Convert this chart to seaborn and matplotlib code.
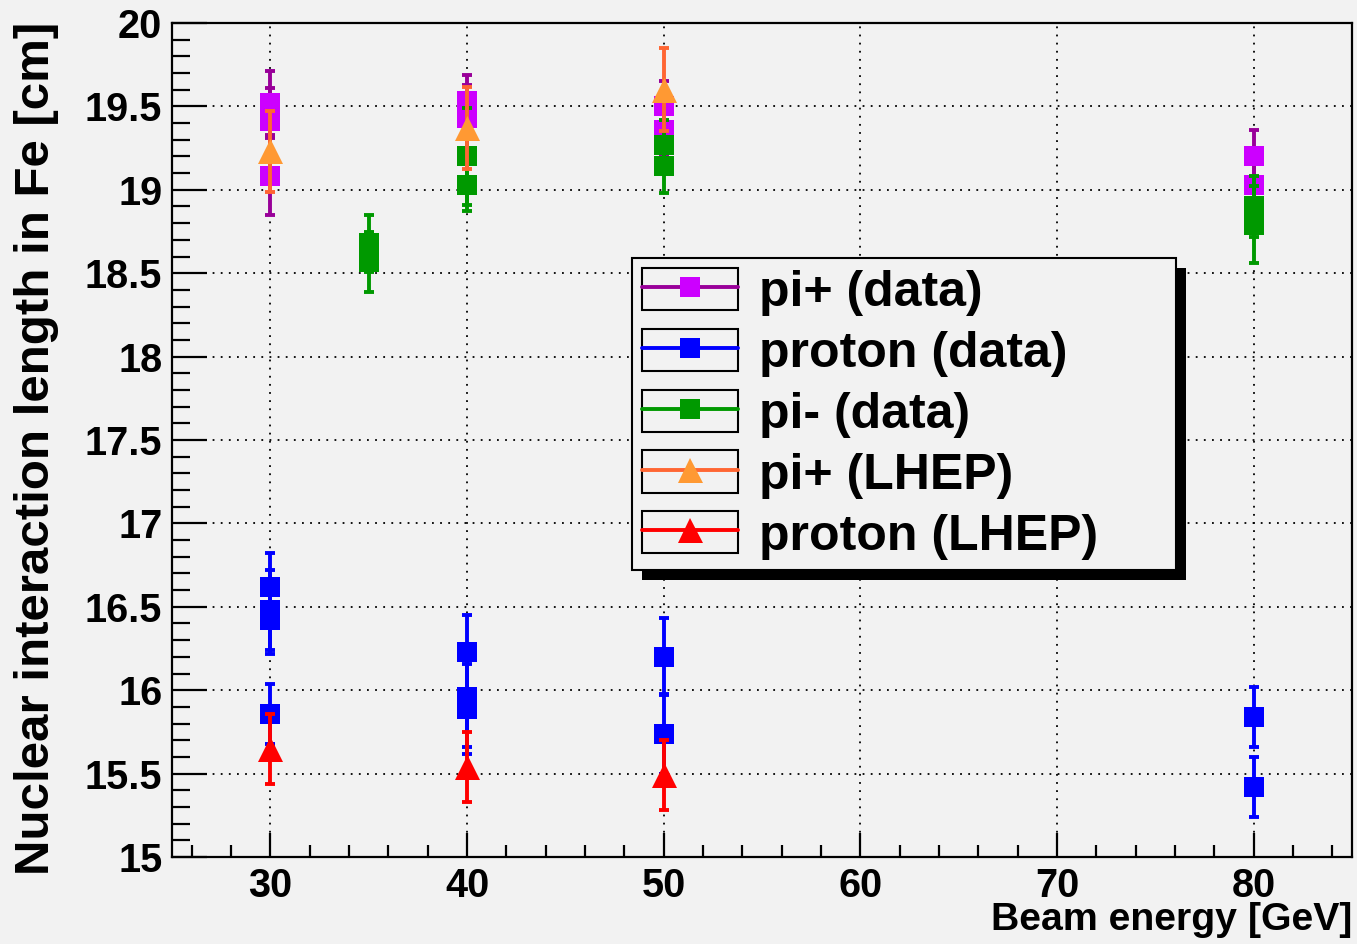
import matplotlib
matplotlib.use("Agg")
import matplotlib.pyplot as plt
from matplotlib.patches import Rectangle
from matplotlib.lines import Line2D
from matplotlib.legend_handler import HandlerTuple
from matplotlib.transforms import IdentityTransform
from matplotlib.ticker import MultipleLocator
import numpy as np
import pandas as pd
import seaborn as sns

# ---------------- data ----------------
series_names = ["pi+ (data)", "proton (data)", "pi- (data)", "pi+ (LHEP)", "proton (LHEP)"]

pip_data_E = [30, 30, 30, 40, 40, 50, 50, 80, 80]
pip_data_v = [19.52, 19.41, 19.08, 19.53, 19.43, 19.50, 19.36, 19.20, 19.03]
pip_data_e = [0.19, 0.20, 0.23, 0.16, 0.20, 0.15, 0.15, 0.16, 0.17]

prot_data_E = [30, 30, 30, 30, 40, 40, 40, 50, 50, 80, 80]
prot_data_v = [16.62, 16.48, 16.42, 15.86, 16.23, 15.96, 15.89, 16.20, 15.74, 15.84, 15.42]
prot_data_e = [0.20, 0.24, 0.20, 0.18, 0.22, 0.30, 0.27, 0.23, 0.24, 0.18, 0.18]

pim_data_E = [35, 35, 40, 40, 50, 50, 80, 80]
pim_data_v = [18.68, 18.57, 19.20, 19.03, 19.27, 19.14, 18.90, 18.79]
pim_data_e = [0.17, 0.18, 0.29, 0.16, 0.15, 0.16, 0.18, 0.23]

pip_lhep_E = [30, 40, 50]
pip_lhep_v = [19.23, 19.37, 19.60]
pip_lhep_e = [0.245, 0.245, 0.25]

prot_lhep_E = [30, 40, 50]
prot_lhep_v = [15.65, 15.54, 15.49]
prot_lhep_e = [0.21, 0.21, 0.21]

x_ticks = [30, 40, 50, 60, 70, 80]
x_tick_labels = ["30", "40", "50", "60", "70", "80"]
y_ticks = [15, 15.5, 16, 16.5, 17, 17.5, 18, 18.5, 19, 19.5, 20]
y_tick_labels = ["15", "15.5", "16", "16.5", "17", "17.5", "18", "18.5", "19", "19.5", "20"]

x_label = "Beam energy [GeV]"
y_label = "Nuclear interaction length in Fe [cm]"

# ---------------- table ----------------
frames = []
for name, E, v, e in zip(series_names,
                         [pip_data_E, prot_data_E, pim_data_E, pip_lhep_E, prot_lhep_E],
                         [pip_data_v, prot_data_v, pim_data_v, pip_lhep_v, prot_lhep_v],
                         [pip_data_e, prot_data_e, pim_data_e, pip_lhep_e, prot_lhep_e]):
    frames.append(pd.DataFrame({"energy": E, "value": v, "err": e, "series": name}))
df = pd.concat(frames, ignore_index=True)

# ---------------- style ----------------
BG = "#f2f2f2"
sns.set_theme(style="ticks")
plt.rcParams["font.family"] = ["Liberation Sans", "DejaVu Sans"]
plt.rcParams["font.weight"] = "bold"
plt.rcParams["axes.labelweight"] = "bold"
plt.rcParams["text.color"] = "black"
plt.rcParams["xtick.color"] = "black"
plt.rcParams["ytick.color"] = "black"
plt.rcParams["xtick.labelcolor"] = "black"
plt.rcParams["ytick.labelcolor"] = "black"

styles = {
    "pi+ (data)":    dict(mc="#cc00ff", ec="#990099", marker="s", ms=14.4),
    "proton (data)": dict(mc="#0000ff", ec="#0000ff", marker="s", ms=14.4),
    "pi- (data)":    dict(mc="#009900", ec="#009900", marker="s", ms=14.4),
    "pi+ (LHEP)":    dict(mc="#ff9933", ec="#ff6633", marker="^", ms=18.0),
    "proton (LHEP)": dict(mc="#ff0000", ec="#ff0000", marker="^", ms=18.0),
}

fig = plt.figure(figsize=(13.57, 9.44), dpi=100, facecolor=BG)
ax = fig.add_axes([172 / 1357, 1 - 857 / 944, (1352 - 172) / 1357, (857 - 23) / 944])
ax.set_facecolor(BG)

z = 3
for name in series_names:
    sub = df[df["series"] == name]
    st = styles[name]
    ax.errorbar(sub["energy"], sub["value"], yerr=sub["err"], fmt="none",
                ecolor=st["ec"], elinewidth=2.8, capsize=3.6, capthick=2.8, zorder=z)
    sns.scatterplot(data=sub, x="energy", y="value", ax=ax, color=st["mc"],
                    marker=st["marker"], s=st["ms"] ** 2, linewidth=0, zorder=z + 0.5,
                    legend=False)
    z += 1

ax.set_xlim(25, 85)
ax.set_ylim(15, 20)
ax.set_xticks(x_ticks)
ax.set_xticklabels(x_tick_labels)
ax.set_yticks(y_ticks)
ax.set_yticklabels(y_tick_labels)
ax.xaxis.set_minor_locator(MultipleLocator(2))
ax.yaxis.set_minor_locator(MultipleLocator(0.1))
ax.set_xlabel("")
ax.set_ylabel("")

ax.tick_params(axis="both", which="both", direction="in", top=False, right=False,
               width=1.6, colors="black")
ax.tick_params(axis="y", which="major", length=25, pad=7, labelsize=28.5)
ax.tick_params(axis="y", which="minor", length=13)
ax.tick_params(axis="x", which="major", length=17, pad=7, labelsize=28.5)
ax.tick_params(axis="x", which="minor", length=9)
for lab in ax.get_xticklabels() + ax.get_yticklabels():
    lab.set_fontweight("bold")
    lab.set_color("black")

for sp in ax.spines.values():
    sp.set_visible(True)
    sp.set_color("black")
    sp.set_linewidth(1.6)

ax.grid(True, which="major", color="black", linestyle=(0, (1, 3.5)), linewidth=1.3)
ax.set_axisbelow(True)

fig.text(37 / 1357, 1 - 22 / 944, y_label, rotation=90, ha="center", va="top",
         fontsize=35.5, fontweight="bold", color="black")
fig.text(1352 / 1357, 1 - 920 / 944, x_label, ha="right", va="center",
         fontsize=28.3, fontweight="bold", color="black")

# ---------------- legend ----------------
handles = []
for name in series_names:
    st = styles[name]
    box = Rectangle((0, 0), 1, 1, facecolor="none", edgecolor="black", linewidth=1.5)
    ln = Line2D([], [], color=st["ec"], linewidth=2.8, marker=st["marker"],
                markersize=st["ms"], markerfacecolor=st["mc"], markeredgewidth=0)
    handles.append((box, ln))

leg_x0, leg_top, leg_w, leg_h = 632 / 1357, 1 - 258 / 944, 544 / 1357, 308 / 944
leg = ax.legend(handles, series_names, handler_map={tuple: HandlerTuple(ndivide=1)},
                loc="upper left", mode="expand",
                bbox_to_anchor=(leg_x0, leg_top - leg_h, leg_w, leg_h),
                bbox_transform=fig.transFigure, borderaxespad=0,
                prop={"weight": "bold", "size": 36},
                handlelength=1.92, handleheight=0.92, handletextpad=0.42,
                labelspacing=0.25, borderpad=0.2, fancybox=False, framealpha=1,
                facecolor=BG, edgecolor="black", labelcolor="black")
leg.get_frame().set_linewidth(1.5)
leg.set_zorder(20)

fig.canvas.draw()
bb = leg.get_window_extent()
shadow = Rectangle((bb.x0 + 10, bb.y0 - 10), bb.width, bb.height, transform=IdentityTransform(),
                   facecolor="black", edgecolor="none", zorder=19)
ax.add_artist(shadow)

fig.savefig("out.png", dpi=100, facecolor=BG)
